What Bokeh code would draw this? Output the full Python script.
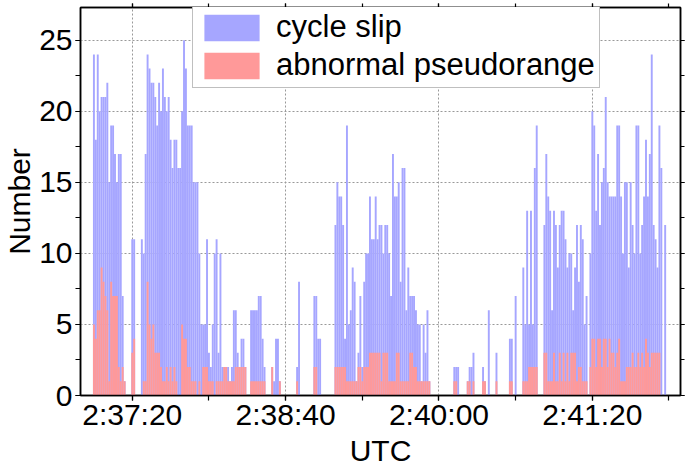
import numpy as np
from bokeh.plotting import figure
from bokeh.models import (ColumnDataSource, FixedTicker, Legend, LegendItem,
                          Range1d, LinearAxis, CustomLabelingPolicy)
from bokeh.embed import file_html
from bokeh.resources import INLINE

# ---------------- data (one bar per second, starting at start_time) ----------------
start_time = "2:37:00"

cycle_slip = [
    24, 18, 24, 20, 21, 21, 21, 22, 15, 19, 19, 17, 15, 17, 17, 7, 1, 0, 0, 0,
    11, 11, 0, 0, 0, 11, 10, 17, 24, 23,
    22, 22, 21, 19, 22, 20, 23, 21, 20, 21,
    18, 16, 18, 18, 16, 16, 20, 25, 23, 19,
    19, 19, 15, 15, 15, 10, 5, 5, 5, 11,
    3, 2, 5, 10, 11, 3, 10, 2, 2, 2,
    2, 1, 2, 6, 6, 3, 2, 4, 4, 2,
    0, 0, 6, 6, 6, 6, 7, 7, 4, 2,
    0, 0, 0, 2, 1, 4, 4, 1, 0, 0,
    0, 0, 0, 0, 0, 0, 2, 8, 0, 0,
    0, 0, 0, 0, 0, 7, 7, 4, 4, 0,
    0, 0, 0, 0, 0, 0, 12, 15, 14, 14,
    12, 4, 19, 5, 6, 9, 8, 1, 3, 7,
    2, 8, 10, 10, 14, 11, 11, 14, 11, 12,
    12, 10, 12, 12, 10, 7, 17, 14, 14, 15,
    8, 16, 16, 6, 9, 7, 7, 7, 6, 5,
    5, 1, 5, 3, 6, 1, 0, 0, 0, 0,
    0, 0, 0, 0, 0, 0, 0, 0, 2, 2,
    2, 0, 0, 0, 0, 1, 2, 2, 3, 0,
    0, 0, 0, 2, 1, 0, 6, 0, 0, 0,
    3, 0, 0, 0, 0, 0, 0, 4, 4, 0,
    7, 0, 0, 0, 9, 5, 13, 5, 13, 5,
    16, 19, 0, 0, 0, 12, 17, 14, 13, 6,
    13, 12, 9, 12, 13, 13, 11, 9, 10, 10,
    6, 9, 12, 8, 12, 11, 5, 7, 0, 10,
    20, 19, 13, 17, 12, 15, 16, 21, 15, 14,
    14, 14, 14, 19, 19, 14, 10, 15, 15, 9,
    15, 12, 10, 19, 19, 10, 12, 14, 18, 14,
    17, 24, 12, 11, 9, 19, 16, 0, 12,
]

abnormal_pseudorange = [
    5, 4, 6, 6, 9, 8, 7, 6, 1, 8, 7, 7, 7, 2, 1, 2, 1, 0, 0, 0,
    3, 4, 0, 0, 0, 0, 1, 1, 8, 5,
    4, 5, 3, 3, 3, 2, 1, 1, 2, 1,
    2, 1, 2, 1, 0, 0, 5, 4, 4, 2,
    2, 1, 1, 1, 0, 1, 0, 2, 2, 2,
    1, 1, 1, 0, 1, 1, 1, 1, 2, 2,
    1, 1, 1, 1, 2, 2, 2, 2, 2, 2,
    0, 0, 1, 1, 1, 1, 1, 1, 1, 1,
    0, 0, 0, 2, 0, 0, 0, 1, 0, 0,
    0, 0, 0, 0, 0, 0, 1, 0, 0, 0,
    0, 0, 0, 0, 0, 2, 2, 0, 0, 0,
    0, 0, 0, 0, 0, 0, 2, 2, 2, 2,
    2, 2, 1, 1, 1, 1, 1, 1, 2, 2,
    1, 2, 2, 2, 3, 3, 3, 3, 3, 3,
    1, 3, 3, 3, 1, 1, 1, 1, 3, 3,
    1, 1, 1, 1, 1, 3, 3, 2, 2, 1,
    1, 1, 1, 1, 1, 1, 0, 0, 0, 0,
    0, 0, 0, 0, 0, 0, 0, 0, 1, 1,
    0, 0, 0, 0, 0, 1, 1, 0, 1, 0,
    0, 0, 0, 1, 1, 0, 0, 0, 0, 0,
    1, 0, 0, 0, 0, 0, 0, 1, 1, 0,
    0, 0, 0, 0, 1, 1, 1, 2, 2, 2,
    2, 2, 0, 0, 0, 3, 3, 1, 1, 1,
    3, 1, 1, 3, 1, 3, 1, 3, 1, 3,
    3, 3, 1, 2, 2, 1, 1, 1, 0, 2,
    4, 4, 2, 4, 4, 2, 4, 4, 2, 4,
    3, 3, 2, 3, 4, 1, 1, 1, 2, 2,
    2, 3, 2, 2, 3, 2, 3, 2, 4, 3,
    2, 3, 3, 3, 3, 3, 0, 0, 0,
]

x_tick_labels = ["2:37:20", "2:38:40", "2:40:00", "2:41:20"]
y_ticks = [0, 5, 10, 15, 20, 25]
series_names = ["cycle slip", "abnormal pseudorange"]
x_title = "UTC"
y_title = "Number"


def to_sec(s):
    h, m, sec = map(int, s.split(":"))
    return h * 3600 + m * 60 + sec


t0 = to_sec(start_time)
t = [t0 + i for i in range(len(cycle_slip))]
src = ColumnDataSource(dict(t=t, cs=cycle_slip, ap=abnormal_pseudorange))

major_x = [to_sec(l) for l in x_tick_labels]
step = major_x[1] - major_x[0]
minor_x = list(range(major_x[0] - step, major_x[-1] + step + 1, step // 2))
minor_y = list(np.arange(0, 30, 2.5))

FONT = "Liberation Sans"
BLUE = "#a6a6ff"
PINK = "#ff9999"

FIG_W, FIG_H = 685, 474
BORDER_L, BORDER_R, BORDER_T, BORDER_B = 78, 5, 7, 79
FRAME_H = FIG_H - BORDER_T - BORDER_B

p = figure(width=FIG_W, height=FIG_H, output_backend="svg", toolbar_location=None,
           x_range=Range1d(t0 - 7, t0 + 306), y_range=Range1d(0, 27.3),
           min_border_left=BORDER_L, min_border_right=BORDER_R,
           min_border_top=BORDER_T, min_border_bottom=BORDER_B,
           background_fill_color="white", border_fill_color="white")

r1 = p.vbar(x="t", top="cs", width=1.0, source=src, fill_color=BLUE,
            line_color=None)
r2 = p.vbar(x="t", top="ap", width=1.0, source=src, fill_color=PINK,
            line_color=None)

p.outline_line_color = "black"
p.outline_line_width = 1.5
p.outline_line_alpha = 1.0

# mirrored tick-only axes on top and right (labels filtered out entirely)
no_labels = CustomLabelingPolicy(code="""
    for (const i of Array.from(indices)) {
        if (typeof indices.unset === 'function') { indices.unset(i) }
        else { indices.set(i, false) }
    }
    return indices
""")
p.add_layout(LinearAxis(major_label_policy=no_labels), "above")
p.add_layout(LinearAxis(major_label_policy=no_labels), "right")

x_ticker = FixedTicker(ticks=major_x, minor_ticks=minor_x)
y_ticker = FixedTicker(ticks=y_ticks, minor_ticks=minor_y)
for ax in p.xaxis:
    ax.ticker = x_ticker
for ax in p.yaxis:
    ax.ticker = y_ticker
p.below[0].major_label_overrides = {m: l for m, l in zip(major_x, x_tick_labels)}

p.below[0].axis_label = x_title
p.left[0].axis_label = y_title

for ax in p.xaxis + p.yaxis:
    ax.axis_line_color = "black"
    ax.axis_line_width = 1.5
    ax.major_tick_line_color = "black"
    ax.minor_tick_line_color = "black"
    ax.major_tick_line_width = 1.2
    ax.minor_tick_line_width = 1.2
    ax.major_tick_out = 5
    ax.major_tick_in = 0
    ax.minor_tick_out = 5
    ax.minor_tick_in = 0
    ax.major_label_text_font = FONT
    ax.major_label_text_font_size = "30px"
    ax.major_label_text_color = "black"
    ax.major_label_text_line_height = 1.0
    ax.axis_label_text_font = FONT
    ax.axis_label_text_font_size = "30px"
    ax.axis_label_text_font_style = "normal"
    ax.axis_label_text_color = "black"
    ax.axis_label_text_line_height = 1.0

for ax in (p.above[0], p.right[0]):
    ax.major_label_text_font_size = "0px"
    ax.major_label_standoff = 0
    ax.major_tick_out = 4
    ax.minor_tick_out = 4

p.below[0].major_label_standoff = -3
p.below[0].axis_label_standoff = 0
p.left[0].major_label_standoff = 3
p.left[0].axis_label_standoff = 0

p.xgrid.ticker = FixedTicker(ticks=major_x)
p.ygrid.ticker = FixedTicker(ticks=y_ticks)
for g in (p.xgrid[0], p.ygrid[0]):
    g.grid_line_color = "#999999"
    g.grid_line_dash = "2 2"
    g.grid_line_width = 1

LEG_H = 80
legend = Legend(items=[LegendItem(label=series_names[0], renderers=[r1]),
                       LegendItem(label=series_names[1], renderers=[r2])],
                location=(112, FRAME_H - LEG_H - 1), orientation="vertical",
                glyph_width=69, glyph_height=33, label_height=33,
                label_standoff=10, padding=4, spacing=2, margin=0,
                label_text_font=FONT, label_text_font_size="31px",
                label_text_line_height=1.0, label_text_color="black",
                border_line_color="#808080", border_line_width=1.5,
                background_fill_color="white", background_fill_alpha=1.0)
p.add_layout(legend)

open("out.html", "w").write(file_html(p, INLINE))
